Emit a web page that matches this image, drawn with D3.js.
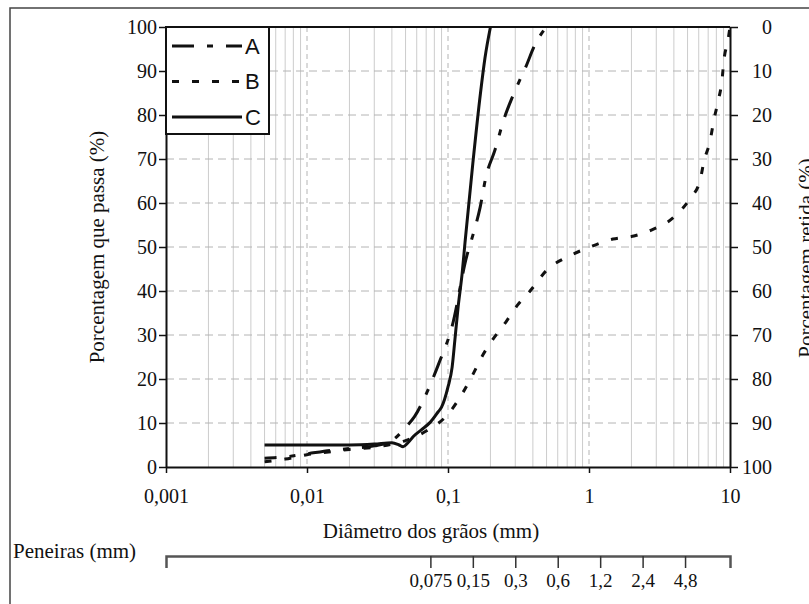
<!DOCTYPE html>
<html>
<head>
<meta charset="utf-8">
<script src="https://cdn.jsdelivr.net/npm/d3@7"></script>
<style>
  body { margin: 0; background: #fff; }
  text { font-family: 'Liberation Serif', 'Times New Roman', serif; fill: #111; }
</style>
</head>
<body>
<svg id="chart" width="809" height="604"></svg>
<script>
// diametro (mm) e porcentagem que passa (%)
let diamA = [0.005, 0.007, 0.01, 0.015, 0.02, 0.03, 0.04, 0.05, 0.058, 0.071, 0.086, 0.107, 0.136, 0.148, 0.169, 0.186, 0.215, 0.249, 0.294, 0.357, 0.414, 0.46, 0.5]
let passaA = [2, 2.3, 3, 3.8, 4.2, 4.8, 6, 9, 11.5, 17, 23.5, 32, 48, 52, 59, 66, 72, 79, 85, 91, 96, 98.5, 100]

let diamB = [0.005, 0.007, 0.01, 0.015, 0.02, 0.03, 0.04, 0.05, 0.06, 0.072, 0.1, 0.128, 0.15, 0.177, 0.208, 0.258, 0.308, 0.382, 0.504, 0.698, 0.98, 1.48, 2.08, 2.84, 3.94, 5.2, 6.12, 6.54, 7.21, 7.7, 8.22, 8.78, 9.06, 9.68, 10]
let passaB = [1.2, 1.8, 2.8, 3.5, 4, 4.5, 5.2, 6, 7, 8.4, 12, 17, 21, 25.5, 29, 33, 36.6, 40, 44.8, 47.7, 49.8, 51.8, 52.5, 54, 56.6, 61, 65, 69.5, 74, 79, 83, 88, 92.5, 97, 100]

let diamC = [0.005, 0.01, 0.02, 0.03, 0.04, 0.045, 0.048, 0.052, 0.057, 0.065, 0.075, 0.085, 0.09, 0.1, 0.107, 0.112, 0.118, 0.126, 0.132, 0.15, 0.17, 0.183, 0.2]
let passaC = [5, 5, 5, 5.2, 5.5, 5, 4.6, 5.5, 7, 8.5, 10.2, 12.5, 13.6, 18.2, 22.7, 29, 36.4, 44, 51, 69, 85, 93, 100]

let seriesNames = ['A', 'B', 'C']
let xTicks = [0.001, 0.01, 0.1, 1, 10]
let xTickLabels = ['0,001', '0,01', '0,1', '1', '10']
let yTicks = [0, 10, 20, 30, 40, 50, 60, 70, 80, 90, 100]
let sieves = [0.075, 0.15, 0.3, 0.6, 1.2, 2.4, 4.8]
let sieveLabels = ['0,075', '0,15', '0,3', '0,6', '1,2', '2,4', '4,8']

let svg = d3.select('#chart')

let x = d3.scaleLog().domain([0.001, 10]).range([166, 730])
let y = d3.scaleLinear().domain([0, 100]).range([467, 27])
let yRet = d3.scaleLinear().domain([100, 0]).range([467, 27])

// moldura externa
svg.append('rect')
  .attr('x', 10).attr('y', 8)
  .attr('width', 830).attr('height', 640)
  .attr('fill', 'none').attr('stroke', '#444').attr('stroke-width', 1.5)

// grade
let minor = []
for (let e = -3; e < 1; e++) {
  for (let m = 2; m < 10; m++) minor.push(m * Math.pow(10, e))
}
svg.append('g').selectAll('line')
  .data(minor)
  .enter().append('line')
  .attr('x1', function (d) { return x(d) }).attr('x2', function (d) { return x(d) })
  .attr('y1', 27).attr('y2', 467)
  .attr('stroke', '#cccccc').attr('stroke-width', 1)

svg.append('g').selectAll('line')
  .data([0.01, 0.1, 1])
  .enter().append('line')
  .attr('x1', function (d) { return x(d) }).attr('x2', function (d) { return x(d) })
  .attr('y1', 27).attr('y2', 467)
  .attr('stroke', '#b4b4b4').attr('stroke-dasharray', '5,4')

svg.append('g').selectAll('line')
  .data(yTicks.slice(1, 10))
  .enter().append('line')
  .attr('x1', 166).attr('x2', 730)
  .attr('y1', function (d) { return y(d) }).attr('y2', function (d) { return y(d) })
  .attr('stroke', '#b4b4b4').attr('stroke-dasharray', '8,5')

// borda superior
svg.append('line')
  .attr('x1', 166).attr('x2', 730).attr('y1', 27).attr('y2', 27)
  .attr('stroke', '#111').attr('stroke-width', 2)

// eixos
let axisLeft = svg.append('g')
  .attr('transform', 'translate(166,0)')
  .call(d3.axisLeft(y).tickValues(yTicks).tickSize(7).tickSizeOuter(0).tickPadding(2))
let axisRight = svg.append('g')
  .attr('transform', 'translate(730,0)')
  .call(d3.axisRight(yRet).tickValues(yTicks).tickSize(8).tickSizeOuter(0))
axisRight.selectAll('text').attr('text-anchor', 'end').attr('x', 42)
let axisBottom = svg.append('g')
  .attr('transform', 'translate(0,467)')
  .call(d3.axisBottom(x).tickValues(xTicks).tickSize(6).tickSizeOuter(0).tickPadding(16)
    .tickFormat(function (d, i) { return xTickLabels[i] }))

;[axisLeft, axisRight, axisBottom].forEach(function (a) {
  a.selectAll('.domain').attr('stroke', '#111').attr('stroke-width', 2)
  a.selectAll('.tick line').attr('stroke', '#111').attr('stroke-width', 1.5)
  a.selectAll('text').attr('font-size', 20).attr('font-family', "'Liberation Serif', serif").attr('fill', '#111')
})

// curvas
let line = d3.line()
  .x(function (d) { return x(d[0]) })
  .y(function (d) { return y(d[1]) })
  .curve(d3.curveMonotoneX)

let curves = [
  { name: 'A', pts: d3.zip(diamA, passaA), dash: '22,13,6,13' },
  { name: 'B', pts: d3.zip(diamB, passaB), dash: '7,13' },
  { name: 'C', pts: d3.zip(diamC, passaC), dash: null }
]

svg.append('g').selectAll('path')
  .data(curves)
  .enter().append('path')
  .attr('d', function (d) { return line(d.pts) })
  .attr('fill', 'none')
  .attr('stroke', '#111')
  .attr('stroke-width', 3)
  .attr('stroke-dasharray', function (d) { return d.dash })
  .attr('stroke-dashoffset', function (d) { return d.name === 'A' ? 10 : 0 })

// legenda
let legend = svg.append('g')
legend.append('rect')
  .attr('x', 166).attr('y', 27).attr('width', 103).attr('height', 107)
  .attr('fill', '#fff').attr('stroke', '#111').attr('stroke-width', 2)
let item = legend.selectAll('.item')
  .data(curves)
  .enter().append('g')
  .attr('class', 'item')
  .attr('transform', function (d, i) { return 'translate(0,' + (46 + i * 35.5) + ')' })
item.append('line')
  .attr('x1', 172).attr('x2', 242)
  .attr('stroke', '#111').attr('stroke-width', 3)
  .attr('stroke-dasharray', function (d) { return d.dash })
item.append('text')
  .attr('x', 245).attr('dy', '0.36em')
  .style('font-family', "'Liberation Sans', Arial, sans-serif")
  .attr('font-size', 22)
  .text(function (d) { return d.name })

// titulos
svg.append('text')
  .attr('transform', 'translate(104,247) rotate(-90)')
  .attr('text-anchor', 'middle').attr('font-size', 21)
  .text('Porcentagem que passa (%)')
svg.append('text')
  .attr('transform', 'translate(813,258) rotate(-90)')
  .attr('text-anchor', 'middle').attr('font-size', 21)
  .text('Porcentagem retida (%)')
svg.append('text')
  .attr('x', 431).attr('y', 538)
  .attr('text-anchor', 'middle').attr('font-size', 21)
  .text('Diâmetro dos grãos (mm)')

// peneiras
svg.append('text')
  .attr('x', 13).attr('y', 558).attr('font-size', 21)
  .text('Peneiras (mm)')
let sieveAxis = svg.append('g')
  .attr('transform', 'translate(0,556)')
  .call(d3.axisBottom(x).tickValues(sieves).tickSize(12).tickSizeOuter(12).tickPadding(6)
    .tickFormat(function (d, i) { return sieveLabels[i] }))
sieveAxis.selectAll('.domain').attr('stroke', '#555').attr('stroke-width', 2.5)
sieveAxis.selectAll('.tick line').attr('stroke', '#333').attr('stroke-width', 1.5)
sieveAxis.selectAll('text').attr('font-size', 19).attr('font-family', "'Liberation Serif', serif").attr('fill', '#111')
</script>
</body>
</html>
